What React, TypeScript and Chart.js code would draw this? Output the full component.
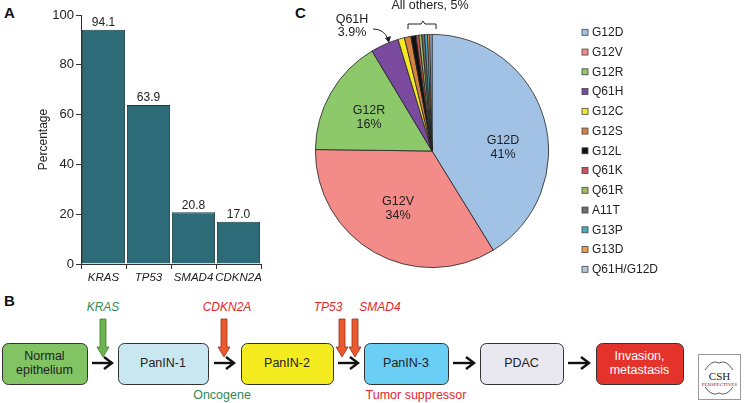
import React, { useEffect, useRef } from 'react';
import { Chart, registerables } from 'chart.js';

Chart.register(...registerables);

const FONT = '"Liberation Sans", Arial, Helvetica, sans-serif';

// Panel A data
const genes = ['KRAS', 'TP53', 'SMAD4', 'CDKN2A'];
const genePercent = [94.1, 63.9, 20.8, 17.0];
const yTicks = [0, 20, 40, 60, 80, 100];

// Panel C data
const mutations = ['G12D', 'G12V', 'G12R', 'Q61H', 'G12C', 'G12S', 'G12L', 'Q61K', 'Q61R', 'A11T', 'G13P', 'G13D', 'Q61H/G12D'];
const mutationShare = [41.2, 34.0, 16.2, 3.9, 0.9, 0.9, 0.7, 0.4, 0.4, 0.4, 0.4, 0.3, 0.3];
const mutationColors = ['#a2c2e5', '#f38b88', '#8dc86b', '#7a4a9f', '#f4ea22', '#d4843f', '#111111', '#c8555a', '#9fbd5e', '#6e6e6e', '#4aa9c2', '#f29a4e', '#b8c6dc'];
const pieTextLabels = [['G12D', '41%'], ['G12V', '34%'], ['G12R', '16%']];
const q61hLabel = ['Q61H', '3.9%'];
const othersLabel = 'All others, 5%';

// layout constants (text placement relative to pie centre)
const pieLabelOffsets = [[71, -3], [-34, 58], [-63, -33]];

// Panel B
const stages = ['Normal\nepithelium', 'PanIN-1', 'PanIN-2', 'PanIN-3', 'PDAC', 'Invasion,\nmetastasis'];
const stageColors = ['#82c464', '#c8e7f1', '#f4ec1e', '#6acef5', '#e9e7f0', '#e4332b'];
const stageText = ['#222', '#222', '#222', '#222', '#222', '#ffffff'];
const stageX = [[2, 87], [118, 208], [241, 333], [364, 448], [480, 563], [596, 683]];

const valueLabelPlugin = {
  id: 'valueLabels',
  afterDatasetsDraw(chart: any) {
    const ctx = chart.ctx;
    const meta = chart.getDatasetMeta(0);
    ctx.save();
    ctx.font = `12px ${FONT}`;
    ctx.fillStyle = '#222';
    ctx.textAlign = 'center';
    ctx.textBaseline = 'middle';
    meta.data.forEach((bar: any, i: number) => {
      ctx.fillText(genePercent[i].toFixed(1), bar.x, bar.y - 7);
    });
    ctx.restore();
  },
};

const pieDecorPlugin = {
  id: 'pieDecor',
  afterDatasetsDraw(chart: any) {
    const ctx = chart.ctx;
    const meta = chart.getDatasetMeta(0);
    const cx = meta.data[0].x;
    const cy = meta.data[0].y;
    ctx.save();
    ctx.font = `12.5px ${FONT}`;
    ctx.fillStyle = '#222';
    ctx.textAlign = 'center';
    ctx.textBaseline = 'middle';
    pieTextLabels.forEach((lines, i) => {
      const [dx, dy] = pieLabelOffsets[i];
      ctx.fillText(lines[0], cx + dx, cy + dy - 7);
      ctx.fillText(lines[1], cx + dx, cy + dy + 7);
    });
    // Q61H outside label
    ctx.fillText(q61hLabel[0], cx - 80, cy - 131);
    ctx.fillText(q61hLabel[1], cx - 80, cy - 118);
    // curved arrow
    ctx.strokeStyle = '#222';
    ctx.lineWidth = 1;
    ctx.beginPath();
    ctx.moveTo(cx - 59, cy - 122);
    ctx.quadraticCurveTo(cx - 48, cy - 122, cx - 44, cy - 112);
    ctx.stroke();
    ctx.beginPath();
    ctx.moveTo(cx - 47, cy - 113);
    ctx.lineTo(cx - 43, cy - 108);
    ctx.lineTo(cx - 41, cy - 115);
    ctx.closePath();
    ctx.fillStyle = '#222';
    ctx.fill();
    // All others label + bracket
    ctx.fillText(othersLabel, cx - 2, cy - 145);
    ctx.beginPath();
    ctx.moveTo(cx - 24, cy - 122);
    ctx.lineTo(cx - 24, cy - 127);
    ctx.lineTo(cx - 11, cy - 127);
    ctx.lineTo(cx - 9, cy - 130);
    ctx.lineTo(cx - 7, cy - 127);
    ctx.lineTo(cx + 4, cy - 127);
    ctx.lineTo(cx + 4, cy - 122);
    ctx.stroke();
    // legend
    const legendX = 282;
    const legendY0 = 32.3;
    const step = 19.75;
    ctx.textAlign = 'left';
    ctx.font = `12px ${FONT}`;
    mutations.forEach((m, i) => {
      const y = legendY0 + i * step;
      ctx.fillStyle = mutationColors[i];
      ctx.fillRect(legendX, y - 3, 6, 6);
      ctx.strokeStyle = '#444';
      ctx.lineWidth = 0.8;
      ctx.strokeRect(legendX, y - 3, 6, 6);
      ctx.fillStyle = '#222';
      ctx.fillText(m, legendX + 10, y + 0.5);
    });
    ctx.restore();
  },
};

function BarChart() {
  const ref = useRef<HTMLCanvasElement>(null);
  useEffect(() => {
    const chart = new Chart(ref.current as HTMLCanvasElement, {
      type: 'bar',
      data: {
        labels: genes,
        datasets: [{
          data: genePercent,
          backgroundColor: '#2e6b78',
          borderColor: '#1a3b43',
          borderWidth: 1,
          barPercentage: 0.96,
          categoryPercentage: 1,
        }],
      },
      options: {
        animation: false,
        responsive: false,
        layout: { padding: { top: 15, right: 19, bottom: 0, left: 0 } },
        plugins: { legend: { display: false }, tooltip: { enabled: false } },
        scales: {
          x: {
            grid: { display: true, drawOnChartArea: false, drawTicks: true, tickLength: 5, color: '#333', offset: true },
            border: { display: true, color: '#333', width: 1 },
            ticks: { font: { family: FONT, size: 11.5, style: 'italic' }, color: '#222', padding: 2, maxRotation: 0, autoSkip: false },
            afterFit: (s: any) => { s.height = 26; },
          },
          y: {
            min: 0,
            max: 100,
            afterBuildTicks: (s: any) => { s.ticks = yTicks.map((v) => ({ value: v })); },
            ticks: { font: { family: FONT, size: 13 }, color: '#222', padding: 2 },
            grid: { drawOnChartArea: false, drawTicks: true, tickLength: 5, color: '#333' },
            border: { display: true, color: '#333', width: 1 },
            title: { display: true, text: 'Percentage', font: { family: FONT, size: 12 }, color: '#222', padding: { top: 36, bottom: 0 } },
            afterFit: (s: any) => { s.width = 81; },
          },
        },
      },
      plugins: [valueLabelPlugin],
    } as any);
    return () => chart.destroy();
  }, []);
  return <canvas ref={ref} width={280} height={290} style={{ position: 'absolute', left: 0, top: 0 }} />;
}

function PieChart() {
  const ref = useRef<HTMLCanvasElement>(null);
  useEffect(() => {
    const chart = new Chart(ref.current as HTMLCanvasElement, {
      type: 'pie',
      data: {
        labels: mutations,
        datasets: [{
          data: mutationShare,
          backgroundColor: mutationColors,
          borderColor: '#222',
          borderWidth: 0.8,
        }],
      },
      options: {
        animation: false,
        responsive: false,
        layout: { padding: { left: 15, top: 34, right: 197, bottom: 22 } },
        plugins: { legend: { display: false }, tooltip: { enabled: false } },
      },
      plugins: [pieDecorPlugin],
    } as any);
    return () => chart.destroy();
  }, []);
  return <canvas ref={ref} width={446} height={290} style={{ position: 'absolute', left: 300, top: 0 }} />;
}

function HArrow({ x1, x2, y }: { x1: number; x2: number; y: number }) {
  return (
    <g stroke="#111" strokeWidth={2.4} fill="none" strokeLinecap="butt">
      <line x1={x1} y1={y} x2={x2 - 1} y2={y} />
      <polyline points={`${x2 - 8},${y - 6} ${x2},${y} ${x2 - 8},${y + 6}`} />
    </g>
  );
}

function DownArrow({ x, fill, stroke }: { x: number; fill: string; stroke: string }) {
  const top = 319;
  const neck = 347;
  const tip = 357;
  return (
    <polygon
      points={`${x - 3},${top} ${x + 3},${top} ${x + 3},${neck} ${x + 6},${neck} ${x},${tip} ${x - 6},${neck} ${x - 3},${neck}`}
      fill={fill}
      stroke={stroke}
      strokeWidth={0.8}
    />
  );
}

function Diagram() {
  const y1 = 343;
  const y2 = 384;
  return (
    <svg width={746} height={403} style={{ position: 'absolute', left: 0, top: 0 }} fontFamily={FONT}>
      {stages.map((s, i) => {
        const [a, b] = stageX[i];
        const lines = s.split('\n');
        const cx = (a + b) / 2;
        return (
          <g key={s}>
            <rect x={a + 0.5} y={y1 + 0.5} width={b - a} height={y2 - y1} rx={6} ry={6} fill={stageColors[i]} stroke="#333" strokeWidth={1} />
            {lines.map((l, j) => (
              <text key={l} x={cx} y={lines.length === 1 ? 364 : 357 + j * 14} fontSize={12.5} fill={stageText[i]} textAnchor="middle" dominantBaseline="middle">{l}</text>
            ))}
          </g>
        );
      })}
      <HArrow x1={92} x2={112} y={363} />
      <HArrow x1={214} x2={234} y={363} />
      <HArrow x1={338} x2={358} y={363} />
      <HArrow x1={453} x2={474} y={363} />
      <HArrow x1={568} x2={589} y={363} />
      <DownArrow x={103} fill="#6db54e" stroke="#3c7a2c" />
      <DownArrow x={224} fill="#e95b2e" stroke="#9c2f16" />
      <DownArrow x={342} fill="#e95b2e" stroke="#9c2f16" />
      <DownArrow x={355} fill="#e95b2e" stroke="#9c2f16" />
      <g fontSize={12} fontStyle="italic" textAnchor="middle" dominantBaseline="middle">
        <text x={103} y={308} fill="#2f8a57">KRAS</text>
        <text x={227} y={308} fill="#e3262b">CDKN2A</text>
        <text x={328} y={308} fill="#e3262b">TP53</text>
        <text x={380} y={308} fill="#e3262b">SMAD4</text>
      </g>
      <text x={222} y={396} fontSize={12.5} fill="#2f8a57" textAnchor="middle" dominantBaseline="middle">Oncogene</text>
      <text x={416} y={396} fontSize={12.5} fill="#e3262b" textAnchor="middle" dominantBaseline="middle">Tumor suppressor</text>
      <g fontWeight="bold" fontSize={15} fill="#111">
        <text x={4} y={18}>A</text>
        <text x={4} y={306}>B</text>
        <text x={295} y={18}>C</text>
      </g>
      <g>
        <rect x={698.5} y={354.5} width={42} height={45} fill="#fff" stroke="#999" strokeWidth={1} />
        <path d="M705 370 Q712 359 719 363 Q726 359 733 370" fill="none" stroke="#333" strokeWidth={0.8} />
        <path d="M705 387 Q712 397 719 393 Q726 397 733 387" fill="none" stroke="#333" strokeWidth={0.8} />
        <text x={719.5} y={377} fontSize={11} fontFamily="'Liberation Serif', serif" textAnchor="middle" dominantBaseline="middle" fill="#222">CSH</text>
        <text x={719.5} y={385} fontSize={5} fontFamily="'Liberation Serif', serif" textAnchor="middle" dominantBaseline="middle" fill="#8a2020">PERSPECTIVES</text>
      </g>
    </svg>
  );
}

export default function App() {
  return (
    <div style={{ position: 'absolute', left: 0, top: 0, width: 746, height: 403, background: '#fff', overflow: 'hidden', fontFamily: FONT }}>
      <Diagram />
      <BarChart />
      <PieChart />
    </div>
  );
}
